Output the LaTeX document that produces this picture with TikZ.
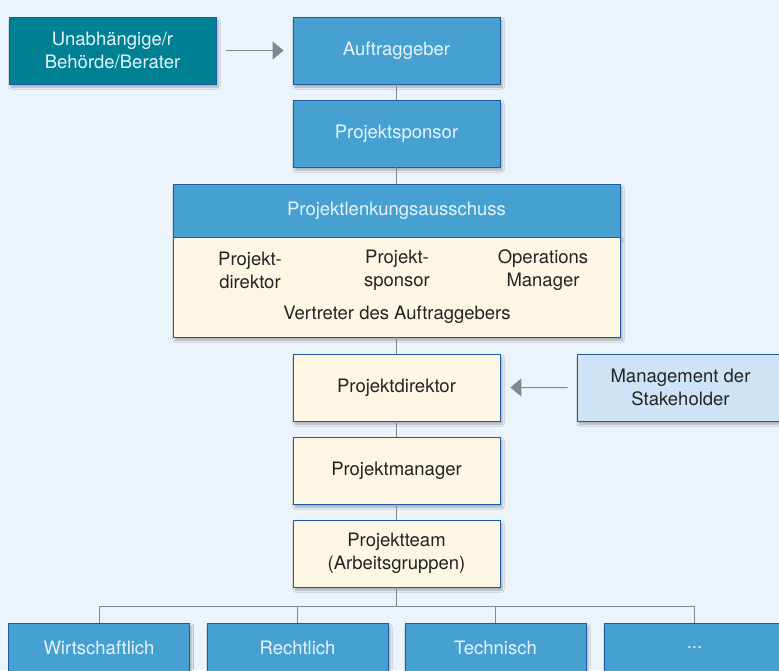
\documentclass[tikz,border=0pt]{standalone}
\usepackage{fontspec}
\setmainfont{TeX Gyre Heros}
\usetikzlibrary{positioning,arrows.meta,shadows.blur}
\definecolor{bgblue}{RGB}{235,243,251}
\definecolor{boxblue}{RGB}{71,160,210}
\definecolor{teal}{RGB}{0,129,147}
\definecolor{cream}{RGB}{254,246,229}
\definecolor{paleblue}{RGB}{207,227,246}
\definecolor{frameblue}{RGB}{30,90,160}
\definecolor{linegray}{RGB}{130,135,140}
\definecolor{palefont}{RGB}{230,243,251}
\definecolor{darkfont}{RGB}{35,35,35}

\begin{document}
\begin{tikzpicture}[x=1pt,y=-1pt,node distance=15.2pt,
      font=\fontsize{18.5}{23}\selectfont,
      box/.style={rectangle,draw=frameblue,line width=0.8pt,minimum width=207pt,minimum height=67pt,align=center,
        blur shadow={shadow xshift=2pt,shadow yshift=-3pt,shadow blur steps=6,shadow opacity=30}},
      bluebox/.style={box,fill=boxblue,text=palefont},
      tealbox/.style={box,fill=teal,text=palefont},
      creambox/.style={box,fill=cream,text=darkfont},
      stakebox/.style={box,fill=paleblue,text=darkfont},
      groupbox/.style={bluebox,minimum width=181pt,minimum height=50pt},
      member/.style={align=center,text=darkfont},
      conn/.style={draw=linegray,line width=1pt},
      arr/.style={conn,-{Triangle[length=11pt,width=18pt]}}
      ]
      \fill[bgblue] (0,0) rectangle (779,670);
      \useasboundingbox (0,0) rectangle (779,670);
      \node (auftr) [bluebox] at (396.5,50.5) {Auftraggeber};
      \node (unab) [tealbox] at (112.5,50.5) {Unabhängige/r\\Behörde/Berater};
      \draw[arr,shorten <=10pt,shorten >=9pt] (unab) -- (auftr);
      \node (sponsor) [bluebox,below=of auftr] {Projektsponsor};
      \draw[conn] (auftr) -- (sponsor);
      \node (lenk) [bluebox,below=16.2pt of sponsor,minimum width=447pt,minimum height=53pt] {Projektlenkungsausschuss};
      \draw[conn] (sponsor) -- (lenk);
      \node (vertr) [creambox,below=-0.8pt of lenk,minimum width=447pt,minimum height=100pt] {};
      \node (m1) [member] at (250,270) {Projekt-\\direktor};
      \node (m2) [member] at (397,270) {Projekt-\\sponsor};
      \node (m3) [member] at (543,270) {Operations\\Manager};
      \node (vlabel) [member] at (397,315) {Vertreter des Auftraggebers};
      \node (direktor) [creambox,below=16.2pt of vertr] {Projektdirektor};
      \draw[conn] (vertr) -- (direktor);
      \node (stake) [stakebox] at (680.5,387.5) {Management der\\Stakeholder};
      \draw[arr,shorten <=9pt,shorten >=10pt] (stake) -- (direktor);
      \node (manager) [creambox,below=of direktor] {Projektmanager};
      \draw[conn] (direktor) -- (manager);
      \node (team) [creambox,below=of manager] {Projektteam\\(Arbeitsgruppen)};
      \draw[conn] (manager) -- (team);
      \coordinate (bus) at (396.5,606);
      \node (wirt) [groupbox] at (99,648) {Wirtschaftlich};
      \node (recht) [groupbox] at (297.5,648) {Rechtlich};
      \node (tech) [groupbox] at (495.5,648) {Technisch};
      \node (more) [groupbox] at (694.5,648) {...};
      \draw[conn] (team) -- (bus);
      \draw[conn] (bus) -| (wirt.north);
      \draw[conn] (bus) -| (recht.north);
      \draw[conn] (bus) -| (tech.north);
      \draw[conn] (bus) -| (more.north);
    \end{tikzpicture}
\end{document}
